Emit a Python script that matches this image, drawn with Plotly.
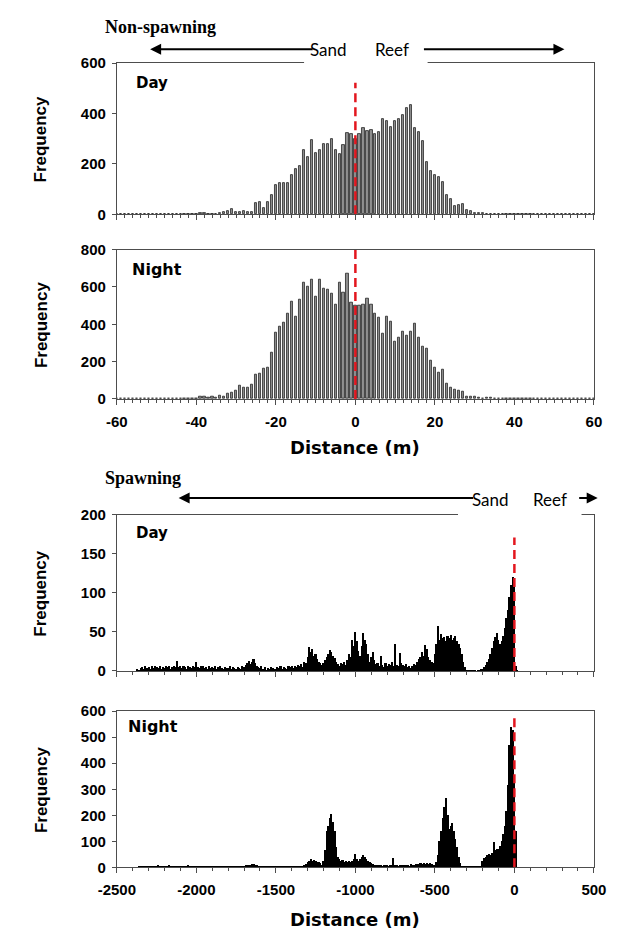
import plotly.graph_objects as go

W, H = 643, 949

# ---------------- data ----------------
ns_dist = list(range(-60, 61))  # 1 m bins, centres
ns_day = [
    0, 0, 0, 0, 0, 0, 0, 0, 0, 0,          # -60..-51
    0, 0, 0, 2, 0, 2, 0, 0, 0, 0,          # -50..-41
    0, 3, 4, 0, 0, 0, 6, 10, 14, 20,       # -40..-31
    10, 10, 14, 10, 10, 44, 50, 23, 50, 78,  # -30..-21
    118, 125, 122, 125, 155, 178, 190, 256, 229, 294,  # -20..-11
    242, 255, 280, 280, 300, 255, 238, 274, 323, 320,  # -10..-1
    300, 318, 344, 332, 335, 318, 325, 378, 370, 345,  # 0..9
    368, 378, 394, 422, 432, 342, 325, 292, 208, 172,  # 10..19
    156, 146, 128, 78, 60, 33, 37, 39, 17, 12,         # 20..29
    4, 6, 3, 0, 0, 0, 0, 0, 0, 0,                      # 30..39
    0, 0, 0, 0, 0, 0, 0, 0, 0, 0,                      # 40..49
    0, 0, 0, 0, 0, 0, 0, 0, 0, 0, 0,                   # 50..60
]
ns_night = [
    0, 0, 0, 0, 0, 0, 0, 3, 0, 3,
    3, 3, 0, 0, 0, 0, 0, 0, 0, 2,
    3, 10, 12, 7, 14, 5, 18, 14, 30, 35,
    47, 69, 63, 60, 74, 130, 137, 163, 167, 246,
    357, 387, 408, 457, 524, 439, 531, 624, 603, 638,
    550, 638, 592, 585, 566, 506, 624, 569, 671, 518,
    500, 501, 506, 538, 503, 457, 436, 351, 439, 413,
    309, 329, 362, 337, 358, 402, 330, 281, 271, 206,
    165, 141, 156, 81, 63, 51, 42, 37, 10, 12,
    12, 8, 3, 8, 5, 3, 2, 0, 0, 0,
    0, 0, 0, 0, 0, 0, 0, 0, 0, 0,
    0, 0, 0, 0, 0, 0, 0, 0, 0, 0, 0,
]

sp_dist = list(range(-2400, 40, 10))  # 10 m bins, centres
sp_day = [
    0, 0, 0, 3, 2, 4, 5, 3, 6, 4,
    5, 3, 6, 4, 7, 5, 4, 6, 3, 5,
    4, 6, 5, 7, 3, 5, 6, 5, 13, 5,
    6, 4, 7, 5, 3, 6, 5, 4, 6, 5,
    12, 5, 4, 6, 7, 4, 5, 3, 6, 4,
    5, 4, 6, 3, 5, 7, 4, 3, 5, 4,
    4, 6, 3, 5, 4, 3, 5, 4, 3, 6,
    5, 8, 10, 13, 9, 12, 15, 11, 7, 5,
    4, 6, 3, 5, 2, 4, 3, 5, 4, 3,
    3, 5, 4, 6, 3, 5, 4, 3, 6, 5,
    6, 4, 7, 5, 8, 6, 9, 5, 12, 10,
    18, 31, 25, 28, 20, 22, 15, 12, 10, 8,
    10, 14, 18, 22, 27, 24, 20, 17, 12, 9,
    7, 10, 9, 12, 8, 14, 22, 18, 40, 32,
    50, 38, 26, 20, 32, 49, 40, 35, 22, 12,
    18, 25, 14, 9, 11, 6, 19, 8, 5, 10,
    7, 9, 8, 12, 6, 35, 8, 6, 23, 10,
    8, 6, 9, 5, 7, 4, 6, 9, 8, 12,
    15, 18, 25, 20, 34, 28, 18, 14, 12, 10,
    22, 35, 58, 40, 47, 42, 44, 38, 45, 43,
    46, 40, 42, 45, 38, 35, 30, 22, 12, 5,
    2, 1, 1, 1, 2, 1, 0, 1, 2, 3,
    3, 5, 8, 12, 15, 22, 30, 38, 44, 49,
    40, 35, 38, 45, 55, 68, 78, 95, 110, 120,
    112, 6, 2, 0,
]
sp_night = [
    0, 0, 0, 0, 3, 2, 5, 4, 3, 6,
    4, 5, 3, 6, 4, 5, 7, 3, 5, 4,
    6, 4, 5, 7, 4, 6, 5, 3, 6, 5,
    4, 6, 3, 5, 4, 7, 5, 6, 4, 3,
    5, 4, 6, 3, 5, 4, 6, 5, 3, 4,
    4, 5, 3, 4, 6, 3, 5, 4, 3, 4,
    3, 4, 3, 5, 3, 4, 2, 3, 4, 5,
    6, 8, 10, 7, 9, 12, 14, 10, 8, 5,
    3, 4, 2, 3, 4, 3, 2, 3, 4, 3,
    3, 4, 3, 2, 4, 3, 4, 3, 5, 4,
    4, 5, 3, 4, 6, 5, 4, 6, 10, 12,
    20, 25, 30, 22, 28, 24, 20, 18, 15, 10,
    25, 65, 140, 160, 190, 205, 175, 140, 78, 40,
    30, 25, 28, 20, 22, 18, 25, 20, 24, 30,
    50, 32, 25, 30, 40, 46, 38, 30, 22, 21,
    15, 12, 10, 8, 9, 7, 8, 6, 9, 8,
    7, 6, 8, 7, 37, 9, 7, 6, 10, 8,
    7, 9, 8, 10, 6, 12, 8, 10, 14, 12,
    12, 15, 13, 17, 14, 16, 12, 15, 13, 10,
    8, 20, 45, 100, 140, 190, 230, 265, 200, 146,
    160, 171, 140, 110, 78, 40, 15, 5, 3, 2,
    2, 1, 3, 2, 1, 2, 3, 2, 4, 5,
    25, 35, 40, 45, 52, 48, 55, 96, 65, 70,
    70, 80, 100, 128, 160, 215, 315, 470, 540, 527,
    340, 140, 0, 0,
]

ns_tickvals = [-60, -40, -20, 0, 20, 40, 60]
ns_ticktext = ["-60", "-40", "-20", "0", "20", "40", "60"]
sp_tickvals = [-2500, -2000, -1500, -1000, -500, 0, 500]
sp_ticktext = ["-2500", "-2000", "-1500", "-1000", "-500", "0", "500"]

# ---------------- helpers ----------------
def fx(px):
    return px / W

def fy(py):
    return 1 - py / H

XL, XR = 103, 605
panels = [  # (top px, bottom px)
    (55, 209),
    (245, 397),
    (515, 674),
    (715, 874),
]

fig = go.Figure()

bar_grey = dict(color="#8f8f8f", line=dict(color="#262626", width=0.8))
fig.add_trace(go.Bar(x=ns_dist, y=ns_day, width=0.55, marker=bar_grey,
                     xaxis="x", yaxis="y", showlegend=False))
fig.add_trace(go.Bar(x=ns_dist, y=ns_night, width=0.55, marker=bar_grey,
                     xaxis="x2", yaxis="y2", showlegend=False))
fig.add_trace(go.Bar(x=sp_dist, y=sp_day, width=10,
                     marker=dict(color="black", line=dict(width=0)),
                     xaxis="x3", yaxis="y3", showlegend=False))
fig.add_trace(go.Bar(x=sp_dist, y=sp_night, width=10,
                     marker=dict(color="black", line=dict(width=0)),
                     xaxis="x4", yaxis="y4", showlegend=False))

tickfont = dict(family="Liberation Sans, Arial, sans-serif", size=15,
                color="black", weight="bold")
axcol = "#4d4d4d"

def xaxis(i, rng, tv, tt, minor_dt, labels):
    return dict(
        domain=[fx(XL), fx(XR)], anchor="y" if i == 0 else "y%d" % (i + 1),
        range=rng, tickmode="array", tickvals=tv, ticktext=tt,
        showticklabels=labels, ticks="outside", ticklen=5, tickwidth=1,
        tickcolor=axcol, showline=True, linecolor=axcol, linewidth=1,
        mirror=True, showgrid=False, zeroline=False, tickfont=tickfont,
        ticklabelstandoff=4,
        minor=dict(dtick=minor_dt, tick0=0, ticks="outside", ticklen=3,
                   tickcolor=axcol, showgrid=False),
    )

def yaxis(i, rng, dt):
    top, bot = panels[i]
    return dict(
        domain=[fy(bot), fy(top)], anchor="x" if i == 0 else "x%d" % (i + 1),
        range=rng, dtick=dt, tick0=0, ticks="outside", ticklen=4,
        tickcolor=axcol, showline=True, linecolor=axcol, linewidth=1,
        mirror=True, showgrid=False, zeroline=False, tickfont=tickfont,
        ticklabelstandoff=3,
    )

fig.update_layout(
    width=W, height=H, margin=dict(l=0, r=0, t=0, b=0),
    plot_bgcolor="white", paper_bgcolor="white", bargap=0,
    xaxis=xaxis(0, [-60, 60], ns_tickvals, ns_ticktext, 2, False),
    xaxis2=xaxis(1, [-60, 60], ns_tickvals, ns_ticktext, 2, True),
    xaxis3=xaxis(2, [-2500, 500], sp_tickvals, sp_ticktext, 100, False),
    xaxis4=xaxis(3, [-2500, 500], sp_tickvals, sp_ticktext, 100, True),
    yaxis=yaxis(0, [0, 600], 200),
    yaxis2=yaxis(1, [0, 800], 200),
    yaxis3=yaxis(2, [0, 200], 50),
    yaxis4=yaxis(3, [0, 600], 100),
)

# red dashed reference lines at distance 0
red_tops = [(("x", "y"), 522), (("x2", "y2"), 800), (("x3", "y3"), 171), (("x4", "y4"), 581)]
shapes = []
for (xr, yr), top in red_tops:
    shapes.append(dict(type="line", xref=xr, yref=yr, x0=0, x1=0, y0=0, y1=top,
                       line=dict(color="#e3161e", width=2.5, dash="9px,5px"),
                       layer="above"))
# white masks breaking the top frame behind the Sand/Reef labels
shapes.append(dict(type="rect", xref="paper", yref="paper",
                   x0=fx(300), x1=fx(430), y0=fy(58), y1=fy(28),
                   fillcolor="white", line=dict(width=0), layer="above"))
shapes.append(dict(type="rect", xref="paper", yref="paper",
                   x0=fx(462), x1=fx(592), y0=fy(518), y1=fy(488),
                   fillcolor="white", line=dict(width=0), layer="above"))
fig.update_layout(shapes=shapes)

ann = []
def text(x, y, s, size, family="Liberation Sans, Arial, sans-serif", bold=True,
         xanchor="center", angle=0):
    ann.append(dict(xref="paper", yref="paper", x=fx(x), y=fy(y), text=s,
                    showarrow=False, xanchor=xanchor, yanchor="middle",
                    textangle=angle,
                    font=dict(family=family, size=size, color="black",
                              weight="bold" if bold else "normal")))

def arrow(xh, xt, y):
    ann.append(dict(xref="paper", yref="paper", x=fx(xh), y=fy(y), text="",
                    showarrow=True, ax=xt - xh, ay=0, axref="pixel", ayref="pixel",
                    arrowhead=2, arrowsize=1.1, arrowwidth=2, arrowcolor="black"))

serif = "Liberation Serif, Times New Roman, serif"
wide = "DejaVu Sans, Verdana, sans-serif"
text(88, 18, "Non-spawning", 18, family=serif, xanchor="left")
text(88, 478, "Spawning", 18, family=serif, xanchor="left")

lab = "Lato, Open Sans, sans-serif"
text(326, 41, "Sand", 17, family=lab, bold=False)
text(393, 41, "Reef", 17, family=lab, bold=False)
arrow(138, 302, 41)
arrow(574, 432, 41)
text(496, 499, "Sand", 17, family=lab, bold=False)
text(559, 499, "Reef", 17, family=lab, bold=False)
arrow(168, 464, 498)
arrow(609, 589, 498)

text(121, 75, "Day", 15, family=wide, xanchor="left")
text(117, 265, "Night", 16, family=wide, xanchor="left")
text(121, 534, "Day", 15, family=wide, xanchor="left")
text(113, 731, "Night", 16, family=wide, xanchor="left")

for top, bot in panels:
    text(23, (top + bot) / 2, "Frequency", 17, angle=-90)

text(354, 447, "Distance (m)", 18, family=wide)
text(354, 927, "Distance (m)", 18, family=wide)

fig.update_layout(annotations=ann)
fig.write_html("out.html")
